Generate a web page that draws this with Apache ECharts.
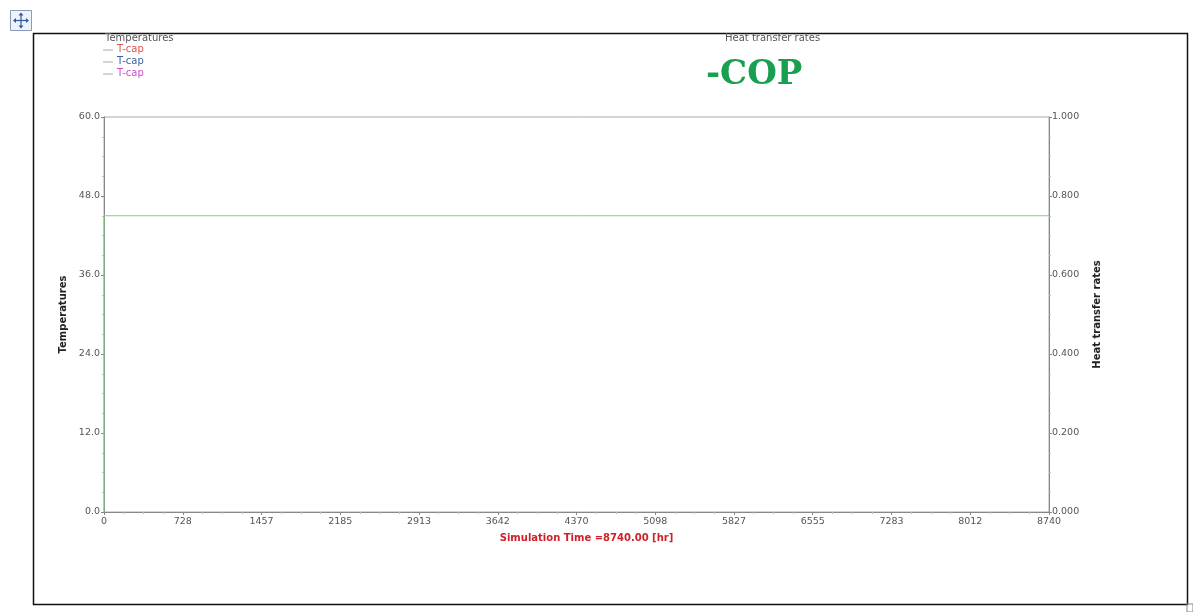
<!DOCTYPE html>
<html><head><meta charset="utf-8">
<script src="https://cdn.jsdelivr.net/npm/echarts@6/dist/echarts.min.js"></script>
<style>html,body{margin:0;padding:0;background:#fff}#c{width:1193px;height:612px}</style>
</head><body><div id="c"></div>
<script>
// Data
const timeMax = 8740;
const xTicks = [0, 728, 1457, 2185, 2913, 3642, 4370, 5098, 5827, 6555, 7283, 8012, 8740];
const copTime = [0, 0, 8740];
const copValues = [0, 0.75, 0.75];
const tempLegend = ['T-cap', 'T-cap', 'T-cap'];
const tempLegendColors = ['#d9534f', '#3a5fa8', '#c94fd0'];
const tempAxisTicks = [0, 12, 24, 36, 48, 60];
const rateAxisTicks = [0, 0.2, 0.4, 0.6, 0.8, 1.0];

const chart = echarts.init(document.getElementById('c'));
const FONT = 'DejaVu Sans, Verdana, sans-serif';
const labelStyle = {color: '#555', fontSize: 9.5, fontFamily: FONT};

const legendGraphics = [
  {type: 'text', left: 105, top: 33, style: {text: 'Temperatures', fill: '#555', fontSize: 10, fontFamily: FONT}}
];
tempLegend.forEach((n, i) => {
  const y = 50 + i * 12;
  legendGraphics.push({type: 'line', shape: {x1: 103, y1: y, x2: 113, y2: y}, style: {stroke: '#aaa', lineWidth: 1}});
  legendGraphics.push({type: 'text', left: 117, top: y - 6, style: {text: n, fill: tempLegendColors[i], fontSize: 10, fontFamily: FONT}});
});

// move-handle icon
const ic = '#2f5aa0';
const iconGraphics = [
  {type: 'rect', shape: {x: 10.5, y: 10.5, width: 21, height: 20}, style: {fill: '#eef2fa', stroke: '#8a9ab8', lineWidth: 1}},
  {type: 'line', shape: {x1: 14, y1: 20.5, x2: 28, y2: 20.5}, style: {stroke: ic, lineWidth: 1.2}},
  {type: 'line', shape: {x1: 21, y1: 13.5, x2: 21, y2: 27.5}, style: {stroke: ic, lineWidth: 1.2}},
  {type: 'polygon', shape: {points: [[21, 12.5], [18.5, 15.5], [23.5, 15.5]]}, style: {fill: ic}},
  {type: 'polygon', shape: {points: [[21, 28.5], [18.5, 25.5], [23.5, 25.5]]}, style: {fill: ic}},
  {type: 'polygon', shape: {points: [[13, 20.5], [16, 18], [16, 23]]}, style: {fill: ic}},
  {type: 'polygon', shape: {points: [[29, 20.5], [26, 18], [26, 23]]}, style: {fill: ic}}
];

chart.setOption({
  animation: false,
  backgroundColor: '#fff',
  grid: {left: 104, right: 144, top: 117, bottom: 100, show: true, borderColor: '#aaa', borderWidth: 1},
  xAxis: {
    type: 'value', min: 0, max: timeMax, interval: timeMax / 12,
    axisLine: {show: true, lineStyle: {color: '#888'}},
    axisTick: {show: true, length: 3, lineStyle: {color: '#888'}},
    minorTick: {show: true, splitNumber: 4, length: 2, lineStyle: {color: '#bbb'}},
    splitLine: {show: false},
    axisLabel: Object.assign({margin: 5, formatter: v => String(Math.round(v))}, labelStyle),
    name: 'Simulation Time =8740.00 [hr]', nameLocation: 'middle', nameGap: 21,
    nameTextStyle: {color: '#d0202a', fontWeight: 'bold', fontSize: 10, fontFamily: FONT, padding: [0, 0, 0, 20]}
  },
  yAxis: [
    {
      type: 'value', min: tempAxisTicks[0], max: tempAxisTicks[tempAxisTicks.length - 1], interval: 12,
      axisLine: {show: true, lineStyle: {color: '#888'}},
      axisTick: {show: true, length: 3, lineStyle: {color: '#888'}},
      minorTick: {show: true, splitNumber: 4, length: 2, lineStyle: {color: '#bbb'}},
      splitLine: {show: false},
      axisLabel: Object.assign({margin: 4, formatter: v => v.toFixed(1)}, labelStyle),
      name: 'Temperatures', nameLocation: 'middle', nameGap: 36,
      nameTextStyle: {color: '#222', fontWeight: 'bold', fontSize: 10, fontFamily: FONT}
    },
    {
      type: 'value', min: rateAxisTicks[0], max: rateAxisTicks[rateAxisTicks.length - 1], interval: 0.2, position: 'right',
      axisLine: {show: true, lineStyle: {color: '#888'}},
      axisTick: {show: true, length: 3, lineStyle: {color: '#888'}},
      minorTick: {show: true, splitNumber: 4, length: 2, lineStyle: {color: '#bbb'}},
      splitLine: {show: false},
      axisLabel: Object.assign({margin: 3, formatter: v => v.toFixed(3)}, labelStyle),
      name: 'Heat transfer rates', nameLocation: 'middle', nameGap: 43,
      nameTextStyle: {color: '#222', fontWeight: 'bold', fontSize: 10, fontFamily: FONT}
    }
  ],
  series: [
    {
      name: 'COP', type: 'line', yAxisIndex: 1, symbol: 'none',
      data: copTime.map((t, i) => [t, copValues[i]]),
      lineStyle: {color: '#7fcf7f', width: 1}
    }
  ],
  graphic: [
    {type: 'rect', shape: {x: 33.5, y: 33.5, width: 1154, height: 571}, style: {fill: 'none', stroke: '#111', lineWidth: 1.5}},
    {type: 'rect', shape: {x: 1187, y: 604, width: 6, height: 8}, style: {fill: 'none', stroke: '#888', lineWidth: 1}},
    {type: 'text', left: 725, top: 33, style: {text: 'Heat transfer rates', fill: '#555', fontSize: 10, fontFamily: FONT}},
    {type: 'text', left: 706, top: 58, style: {text: '-COP', fill: '#18a050', fontSize: 34, fontWeight: 'bold', fontFamily: 'DejaVu Serif, Liberation Serif, serif'}}
  ].concat(iconGraphics, legendGraphics)
});
</script>
</body></html>
